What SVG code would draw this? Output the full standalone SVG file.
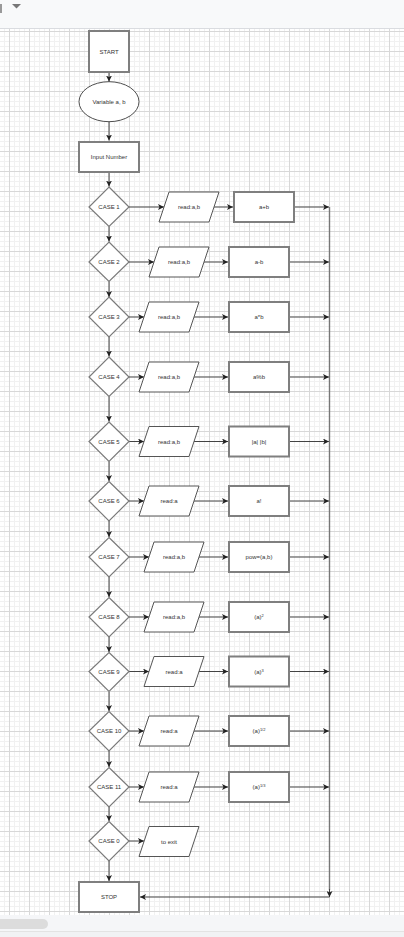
<svg xmlns="http://www.w3.org/2000/svg" width="404" height="937" viewBox="0 0 404 937">
<style>
.box{fill:#fff;stroke:#7f7f7f;stroke-width:2}
.dia{fill:#fff;stroke:#7a7a7a;stroke-width:1.2}
.para{fill:#fff;stroke:#555;stroke-width:1}
.ell{fill:#fff;stroke:#222;stroke-width:0.8}
.edge{fill:none;stroke:#444;stroke-width:1;marker-end:url(#arr)}
.bus{fill:none;stroke:#777;stroke-width:1.4}
.t{font-family:"Liberation Sans",Arial,sans-serif;font-size:6px;fill:#333;text-anchor:middle;dominant-baseline:central}
.sup{font-size:4px}
</style>
<defs>
<marker id="arr" markerUnits="userSpaceOnUse" markerWidth="7" markerHeight="6" refX="6" refY="3" orient="auto">
<path d="M0,0 L6,3 L0,6 L1.5,3 z" fill="#222"/>
</marker>
<pattern id="grid" patternUnits="userSpaceOnUse" x="9" y="11" width="20" height="20">
<path d="M5.5,0V20M10.5,0V20M15.5,0V20M0,5.5H20M0,10.5H20M0,15.5H20" stroke="#f1f1f1" stroke-width="1"/>
<path d="M0.5,0V20M0,0.5H20" stroke="#d8d8d8" stroke-width="1"/>
</pattern>
</defs>

<!-- background -->
<rect x="0" y="0" width="404" height="28" fill="#f8f9fa"/>
<rect x="0" y="28" width="404" height="887" fill="#fff"/>
<rect x="0" y="28" width="404" height="887" fill="url(#grid)"/>
<line x1="0" y1="28.5" x2="404" y2="28.5" stroke="#dadce0"/>
<rect x="0" y="4" width="2" height="9" fill="#999"/>
<path d="M12,4 L21,4 L16.5,8.5 z" fill="#777"/>
<rect x="0" y="915" width="404" height="22" fill="#f5f6f8"/>
<rect x="-6" y="919" width="54" height="10" rx="5" fill="#dcdcdc"/>
<line x1="0" y1="931.5" x2="404" y2="931.5" stroke="#e3e3e3"/>
<rect x="0" y="932" width="404" height="5" fill="#f1f2f4"/>

<!-- connectors -->
<g id="connectors">
<line class="edge" x1="109" y1="73" x2="109" y2="81.5"/>
<line class="edge" x1="109" y1="122" x2="109" y2="140.5"/>
<line class="edge" x1="109" y1="173" x2="109" y2="186.5"/>
<line class="edge" x1="109" y1="226.5" x2="109" y2="241.5"/>
<line class="edge" x1="109" y1="281.5" x2="109" y2="297"/>
<line class="edge" x1="109" y1="337" x2="109" y2="356.5"/>
<line class="edge" x1="109" y1="396.5" x2="109" y2="421.5"/>
<line class="edge" x1="109" y1="461.5" x2="109" y2="481"/>
<line class="edge" x1="109" y1="521" x2="109" y2="537"/>
<line class="edge" x1="109" y1="577" x2="109" y2="597"/>
<line class="edge" x1="109" y1="637" x2="109" y2="652"/>
<line class="edge" x1="109" y1="692" x2="109" y2="711"/>
<line class="edge" x1="109" y1="751" x2="109" y2="767"/>
<line class="edge" x1="109" y1="807" x2="109" y2="821"/>
<line class="edge" x1="109" y1="861" x2="109" y2="881"/>
<!-- row 1 -->
<line class="edge" x1="129" y1="207" x2="164" y2="207"/>
<line class="edge" x1="214" y1="207" x2="233" y2="207"/>
<line class="edge" x1="295" y1="207" x2="329" y2="207"/>
<!-- row 2 -->
<line class="edge" x1="129" y1="262" x2="154" y2="262"/>
<line class="edge" x1="204" y1="262" x2="228" y2="262"/>
<line class="edge" x1="290" y1="262" x2="329" y2="262"/>
<!-- row 3 -->
<line class="edge" x1="129" y1="317" x2="144" y2="317"/>
<line class="edge" x1="194" y1="317" x2="228" y2="317"/>
<line class="edge" x1="290" y1="317" x2="329" y2="317"/>
<!-- row 4 -->
<line class="edge" x1="129" y1="377" x2="144" y2="377"/>
<line class="edge" x1="194" y1="377" x2="228" y2="377"/>
<line class="edge" x1="290" y1="377" x2="329" y2="377"/>
<!-- row 5 -->
<line class="edge" x1="129" y1="441.5" x2="144" y2="441.5"/>
<line class="edge" x1="194" y1="441.5" x2="228" y2="441.5"/>
<line class="edge" x1="290" y1="441.5" x2="329" y2="441.5"/>
<!-- row 6 -->
<line class="edge" x1="129" y1="501" x2="144" y2="501"/>
<line class="edge" x1="194" y1="501" x2="228" y2="501"/>
<line class="edge" x1="290" y1="501" x2="329" y2="501"/>
<!-- row 7 -->
<line class="edge" x1="129" y1="557" x2="149" y2="557"/>
<line class="edge" x1="199" y1="557" x2="228" y2="557"/>
<line class="edge" x1="290" y1="557" x2="329" y2="557"/>
<!-- row 8 -->
<line class="edge" x1="129" y1="617" x2="149" y2="617"/>
<line class="edge" x1="199" y1="617" x2="228" y2="617"/>
<line class="edge" x1="290" y1="617" x2="329" y2="617"/>
<!-- row 9 -->
<line class="edge" x1="129" y1="671.5" x2="149" y2="671.5"/>
<line class="edge" x1="199" y1="671.5" x2="228" y2="671.5"/>
<line class="edge" x1="290" y1="671.5" x2="329" y2="671.5"/>
<!-- row 10 -->
<line class="edge" x1="129" y1="731" x2="144" y2="731"/>
<line class="edge" x1="194" y1="731" x2="228" y2="731"/>
<line class="edge" x1="290" y1="731" x2="329" y2="731"/>
<!-- row 11 -->
<line class="edge" x1="129" y1="787" x2="144" y2="787"/>
<line class="edge" x1="194" y1="787" x2="228" y2="787"/>
<line class="edge" x1="290" y1="787" x2="329" y2="787"/>
<!-- row 0 -->
<line class="edge" x1="129" y1="841" x2="144" y2="841"/>
<!-- return bus -->
<line class="bus" x1="329.5" y1="207" x2="329.5" y2="890"/>
<line class="edge" x1="329.5" y1="889" x2="329.5" y2="897"/>
<line class="edge" x1="329.5" y1="897" x2="140" y2="897"/>
</g>

<g id="start"><rect class="box" x="89" y="31" width="40" height="41"/><text class="t" x="109" y="51.5">START</text></g>
<g id="variables"><ellipse class="ell" cx="109" cy="101.7" rx="30" ry="20"/><text class="t" x="109" y="102">Variable a, b</text></g>
<g id="input"><rect class="box" x="79" y="142" width="60" height="30"/><text class="t" x="109" y="157">Input Number</text></g>

<g id="case1"><polygon class="dia" points="109,187 129,207 109,226.5 89,207"/><text class="t" x="109" y="207">CASE 1</text></g>
<g id="read1"><polygon class="para" points="169,192 219,192 209,222 159,222"/><text class="t" x="189" y="207">read:a,b</text></g>
<g id="op1"><rect class="box" x="234" y="192" width="60" height="30"/><text class="t" x="264" y="207">a+b</text></g>

<g id="case2"><polygon class="dia" points="109,242 129,262 109,281.5 89,262"/><text class="t" x="109" y="262">CASE 2</text></g>
<g id="read2"><polygon class="para" points="159,247 209,247 199,277 149,277"/><text class="t" x="179" y="262">read:a,b</text></g>
<g id="op2"><rect class="box" x="229" y="247" width="60" height="30"/><text class="t" x="259" y="262">a-b</text></g>

<g id="case3"><polygon class="dia" points="109,297 129,317 109,337 89,317"/><text class="t" x="109" y="317">CASE 3</text></g>
<g id="read3"><polygon class="para" points="149,302 199,302 189,332 139,332"/><text class="t" x="169" y="317">read:a,b</text></g>
<g id="op3"><rect class="box" x="229" y="302" width="60" height="30"/><text class="t" x="259" y="317">a*b</text></g>

<g id="case4"><polygon class="dia" points="109,357 129,377 109,396.5 89,377"/><text class="t" x="109" y="377">CASE 4</text></g>
<g id="read4"><polygon class="para" points="149,362 199,362 189,392 139,392"/><text class="t" x="169" y="377">read:a,b</text></g>
<g id="op4"><rect class="box" x="229" y="362" width="60" height="30"/><text class="t" x="259" y="377">a%b</text></g>

<g id="case5"><polygon class="dia" points="109,422 129,441.5 109,461.5 89,441.5"/><text class="t" x="109" y="441.5">CASE 5</text></g>
<g id="read5"><polygon class="para" points="149,426.5 199,426.5 189,456.5 139,456.5"/><text class="t" x="169" y="441.5">read:a,b</text></g>
<g id="op5"><rect class="box" x="229" y="426.5" width="60" height="30"/><text class="t" x="259" y="441.5">|a| |b|</text></g>

<g id="case6"><polygon class="dia" points="109,481.5 129,501 109,521 89,501"/><text class="t" x="109" y="501">CASE 6</text></g>
<g id="read6"><polygon class="para" points="149,486 199,486 189,516 139,516"/><text class="t" x="169" y="501">read:a</text></g>
<g id="op6"><rect class="box" x="229" y="486" width="60" height="30"/><text class="t" x="259" y="501">a!</text></g>

<g id="case7"><polygon class="dia" points="109,537.5 129,557 109,577 89,557"/><text class="t" x="109" y="557">CASE 7</text></g>
<g id="read7"><polygon class="para" points="154,542 204,542 194,572 144,572"/><text class="t" x="174" y="557">read:a,b</text></g>
<g id="op7"><rect class="box" x="229" y="542" width="60" height="30"/><text class="t" x="259" y="557">pow=(a,b)</text></g>

<g id="case8"><polygon class="dia" points="109,597.5 129,617 109,637 89,617"/><text class="t" x="109" y="617">CASE 8</text></g>
<g id="read8"><polygon class="para" points="154,602 204,602 194,632 144,632"/><text class="t" x="174" y="617">read:a,b</text></g>
<g id="op8"><rect class="box" x="229" y="602" width="60" height="30"/><text class="t" x="259" y="617">(a)<tspan class="sup" dy="-2">2</tspan></text></g>

<g id="case9"><polygon class="dia" points="109,652.5 129,671.5 109,691.5 89,671.5"/><text class="t" x="109" y="671.5">CASE 9</text></g>
<g id="read9"><polygon class="para" points="154,656.5 204,656.5 194,686.5 144,686.5"/><text class="t" x="174" y="671.5">read:a</text></g>
<g id="op9"><rect class="box" x="229" y="656.5" width="60" height="30"/><text class="t" x="259" y="671.5">(a)<tspan class="sup" dy="-2">3</tspan></text></g>

<g id="case10"><polygon class="dia" points="109,711.5 129,731 109,751 89,731"/><text class="t" x="109" y="731">CASE 10</text></g>
<g id="read10"><polygon class="para" points="149,716 199,716 189,746 139,746"/><text class="t" x="169" y="731">read:a</text></g>
<g id="op10"><rect class="box" x="229" y="716" width="60" height="30"/><text class="t" x="259" y="731">(a)<tspan class="sup" dy="-2">1/2</tspan></text></g>

<g id="case11"><polygon class="dia" points="109,767.5 129,787 109,807 89,787"/><text class="t" x="109" y="787">CASE 11</text></g>
<g id="read11"><polygon class="para" points="149,772 199,772 189,802 139,802"/><text class="t" x="169" y="787">read:a</text></g>
<g id="op11"><rect class="box" x="229" y="772" width="60" height="30"/><text class="t" x="259" y="787">(a)<tspan class="sup" dy="-2">1/3</tspan></text></g>

<g id="case0"><polygon class="dia" points="109,821.5 129,841 109,861 89,841"/><text class="t" x="109" y="841">CASE 0</text></g>
<g id="exit"><polygon class="para" points="149,826.5 199,826.5 189,856.5 139,856.5"/><text class="t" x="169" y="841.5">to exit</text></g>

<g id="stop"><rect class="box" x="79" y="882" width="60" height="30"/><text class="t" x="109" y="897">STOP</text></g>
</svg>
